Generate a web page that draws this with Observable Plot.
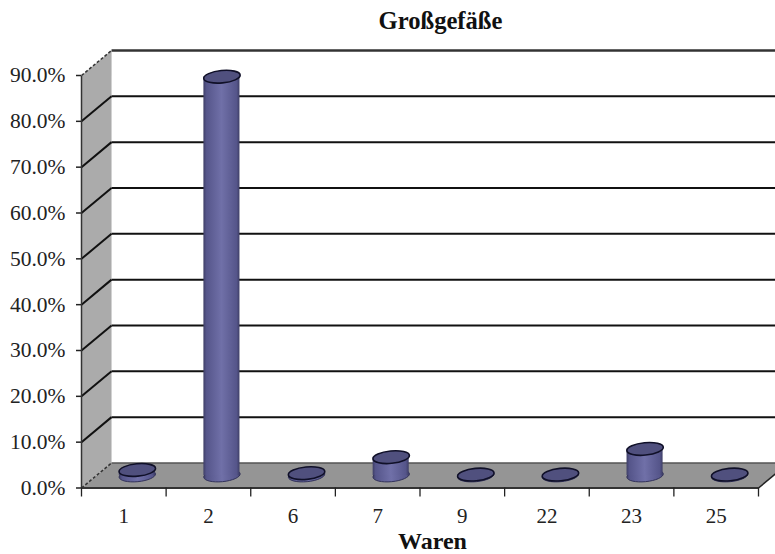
<!DOCTYPE html>
<html lang="de">
<head>
<meta charset="utf-8">
<script src="https://cdn.jsdelivr.net/npm/d3@7"></script>
<script src="https://cdn.jsdelivr.net/npm/@observablehq/plot@0.6"></script>
<style>
html,body{margin:0;padding:0;background:#fff;overflow:hidden}
svg text{font-family:"Liberation Serif","Times New Roman",serif}
</style>
</head>
<body>
<div id="chart"></div>
<script>
const chartTitle = "Großgefäße";
const axisTitle = "Waren";
const categories = ["1","2","6","7","9","22","23","25"];
const values = [1.2, 87, 0.5, 4.0, 0.2, 0.2, 5.8, 0.2];
const yTicks = [0,10,20,30,40,50,60,70,80,90];

// oblique depth of the 3-D box, in data units of each axis
const depthX = 0.355, depthY = 5.46, halfW = 0.213;
const n = categories.length;
const p = (x, y, z) => ({x: x + z * depthX, y: y + z * depthY});

const rows = categories.map((c, i) => ({
  c, v: values[i],
  cx: i + 0.5 + depthX / 2 - 0.018,
  base: depthY / 2,
  top: values[i] + depthY / 2
}));

const sideWall = [p(0,0,0), p(0,90,0), p(0,90,1), p(0,0,1)];
const floor = [p(0,0,0), p(n,0,0), p(n,0,1), p(0,0,1)];
const innerGrid = yTicks.filter(v => v > 0 && v < 90);

const ellipse = {
  draw(ctx) {
    const rx = 18.3, ry = 6.2, t = -5.5 * Math.PI / 180, k = 0.5523;
    const R = (a, b) => [a * Math.cos(t) - b * Math.sin(t), a * Math.sin(t) + b * Math.cos(t)];
    ctx.moveTo(...R(rx, 0));
    ctx.bezierCurveTo(...R(rx, k * ry), ...R(k * rx, ry), ...R(0, ry));
    ctx.bezierCurveTo(...R(-k * rx, ry), ...R(-rx, k * ry), ...R(-rx, 0));
    ctx.bezierCurveTo(...R(-rx, -k * ry), ...R(-k * rx, -ry), ...R(0, -ry));
    ctx.bezierCurveTo(...R(k * rx, -ry), ...R(rx, -k * ry), ...R(rx, 0));
    ctx.closePath();
  }
};

const defs = () => {
  const d = d3.create("svg:defs");
  const g = d.append("linearGradient").attr("id", "cyl").attr("x1", 0).attr("x2", 1).attr("y1", 0).attr("y2", 0);
  [[0,"#3e3e66"],[0.08,"#55558a"],[0.5,"#7070a8"],[0.92,"#55558a"],[1,"#3e3e66"]]
    .forEach(([o,c]) => g.append("stop").attr("offset", o).attr("stop-color", c));
  return d.node();
};

const chart = Plot.plot({
  width: 775, height: 554,
  marginLeft: 81, marginRight: 17, marginTop: 75, marginBottom: 66.5,
  style: {background: "#fff", color: "#222"},
  x: {type: "linear", domain: [0, n]},
  y: {domain: [0, 90]},
  marks: [
    defs,
    Plot.line(sideWall, {x: "x", y: "y", fill: "#ababab", stroke: "none"}),
    Plot.line(floor, {x: "x", y: "y", fill: "#959595", stroke: "none"}),
    // back wall gridlines and edges
    Plot.link(innerGrid, {x1: () => depthX, y1: v => v + depthY, x2: () => n + depthX, y2: v => v + depthY, stroke: "#111", strokeWidth: 2}),
    Plot.link([90], {x1: () => depthX, y1: v => v + depthY, x2: () => n + depthX, y2: v => v + depthY, stroke: "#333", strokeWidth: 2.4}),
    Plot.link([0], {x1: () => depthX, y1: v => v + depthY, x2: () => n + depthX, y2: v => v + depthY, stroke: "#555", strokeWidth: 1.5}),
    // side wall diagonals
    Plot.link(innerGrid, {x1: () => 0, y1: v => v, x2: () => depthX, y2: v => v + depthY, stroke: "#111", strokeWidth: 2}),
    Plot.link([0, 90], {x1: () => 0, y1: v => v, x2: () => depthX, y2: v => v + depthY, stroke: "#333", strokeWidth: 1.5, strokeDasharray: "3 2"}),
    Plot.link([0], {x1: () => n, y1: v => v, x2: () => n + depthX, y2: v => v + depthY, stroke: "#222", strokeWidth: 1.5}),
    // front edges
    Plot.link([0], {x1: () => 0, y1: () => 0, x2: () => n, y2: () => 0, stroke: "#333", strokeWidth: 2.2}),
    Plot.link([0], {x1: () => 0, y1: () => 0, x2: () => 0, y2: () => 90, stroke: "#333", strokeWidth: 1.5}),
    // cylinders
    Plot.dot(rows, {x: "cx", y: "base", r: 10, symbol: ellipse, fill: "url(#cyl)", stroke: "#33335a", strokeWidth: 1}),
    Plot.rect(rows, {x1: d => d.cx - halfW, x2: d => d.cx + halfW, y1: "base", y2: "top", fill: "url(#cyl)", inset: 0}),
    Plot.dot(rows, {x: "cx", y: "top", r: 10, symbol: ellipse, fill: "#50507e", stroke: "#101028", strokeWidth: 1.6}),
    // axes
    Plot.axisY({ticks: yTicks, tickFormat: d => d.toFixed(1) + "%", tickSize: 5, tickPadding: 11, label: null, fontSize: 21.5, stroke: "#222", strokeWidth: 1.5}),
    Plot.axisX({ticks: d3.range(n + 1), tickFormat: () => "", tickSize: 9, label: null, stroke: "#222", strokeWidth: 1.3}),
    Plot.axisX({ticks: d3.range(n).map(i => i + 0.5), tickFormat: d => categories[Math.floor(d)], tickSize: 0, tickPadding: 20, label: null, fontSize: 21}),
    // titles
    Plot.text([chartTitle], {frameAnchor: "top", dx: 20.5, dy: -54, fontSize: 24.6, fontWeight: "bold", fill: "#111", lineAnchor: "middle"}),
    Plot.text([axisTitle], {frameAnchor: "bottom", dx: 12.5, dy: 53.5, fontSize: 24, fontWeight: "bold", fill: "#111", lineAnchor: "middle"})
  ]
});
document.getElementById("chart").appendChild(chart);
</script>
</body>
</html>
